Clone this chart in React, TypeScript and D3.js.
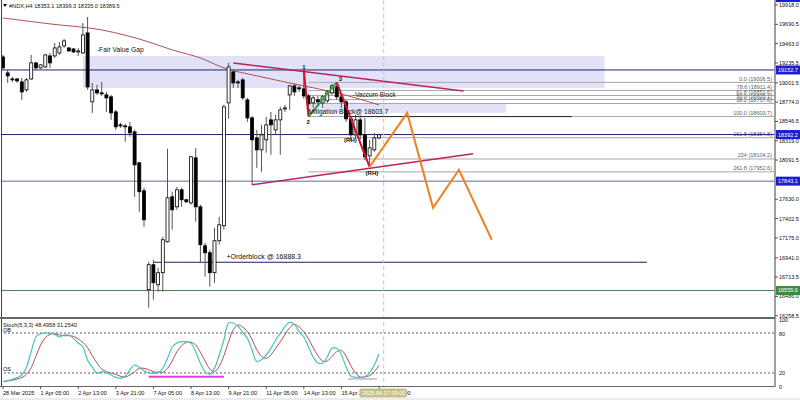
import React, { useEffect, useRef } from 'react';
import * as d3 from 'd3';

// NDX H4 candles, bar 0 = 28 Mar 2025
const opens = [19306,19118,19047,19047,19012,18918,19047,19236,19177,19189,19318,19318,19353,19436,19412,19400,19365,19353,19589,18777,18918,18883,18859,18836,18659,18506,18494,18483,18424,18059,17730,16565,16859,16623,16765,17129,17659,17541,17741,17624,17588,18118,17541,17082,17000,16765,17141,17318,18765,19130,19012,19036,18800,18588,18353,18212,18330,18565,18447,18565,18694,18859,18965,18942,18930,18847,18765,18800,18765,18789,18883,18953,18836,18777,18577,18388,18565,18388,18141,18212,18353.1];
const highs = [19330,19153,19071,19059,19059,19059,19330,19247,19224,19342,19353,19471,19483,19518,19424,19412,19412,19706,19777,19000,18977,19012,18894,18859,18683,18530,18518,18541,18447,18071,17765,16894,16918,16824,17188,18224,17718,17777,17765,17635,18141,18235,17565,17118,17035,17294,17424,18741,19236,19153,19036,19059,18824,18612,18447,18506,18600,18659,18624,18718,18741,18977,18989,18965,19153,18871,18847,18847,18859,18918,18989,19006.5,18859,18800,18600,18624,18624,18588,18330,18412,18399.3];
const lows = [19153,19000,19012,19000,18800,18894,19036,19153,19165,19177,19177,19295,19330,19412,19365,19353,19318,19342,18918,18647,18859,18847,18659,18565,18447,18471,18306,18365,17659,17482,17306,16353,16447,16541,16541,17118,17271,17506,17541,17588,17565,17365,16882,16718,16600,16647,17094,17271,18577,18942,18942,18800,18541,17800,18000,17953,18177,18153,18388,18153,18659,18683,18847,18894,18812,18603.7,18706,18718,18706,18765,18859,18800,18706,18541,18318,18353,18330,18094,18012,18188,18335.0];
const closes = [19177,19083,19036,19024,18894,19036,19236,19177,19212,19330,19236,19412,19424,19495,19377,19365,19377,19565,18953,18918,18883,18871,18824,18647,18483,18494,18483,18412,18035,17718,17388,16859,16647,16765,17153,17647,17506,17741,17624,17600,18130,17541,17094,17000,16765,17141,17329,18718,19189,19000,19000,18824,18588,18330,18212,18388,18506,18506,18565,18683,18706,18965,18894,18930,18847,18753,18824,18777,18836,18894,18965,18836,18777,18577,18388,18565,18388,18130,18235,18353,18389.5];

// moving average (read at a few bars)
const maBars = [0, 10, 21, 31, 36, 42, 47, 54, 64, 71, 80];
const maValues = [19765, 19695, 19624, 19483, 19389, 19294, 19177, 19083, 18965, 18883, 18741];

// Stoch(5,3,3)
const stochK = [7,8.5,10.5,13,17,29,52,74,79,80,80,78,74,77,77,72,65,59,39,29,19.5,22,20,17,13.5,12,15.5,24.5,32,28.5,23.5,20.5,19.5,20.5,27,42,59,65,67,67,64.5,52,34.5,22,18,27,47,69.5,95,95,90,81,72,54,37,40,47,57,69.5,79.5,90,96,93,82,74,59,44,35,34.5,44,57,57,47,29,15.5,13.5,13.5,14.5,20.5,32,48.5];
const stochD = [7,8,9,11,13,18,28,45,62,73,78,79,77,76,76,75,71,66,58,46,35,26,22,20,18,15,14,17,22,27,27,25,22,21,21,27,38,52,61,66,66,62,51,38,26,22,30,46,67,85,92,89,82,70,55,45,42,47,57,67,78,88,93,89,82,71,58,46,38,38,45,52,54,45,31,20,14,14,16,22,31.25];

const timeLabels = ['28 Mar 2025','1 Apr 05:00','2 Apr 13:00','3 Apr 21:00','7 Apr 05:00','8 Apr 13:00','9 Apr 21:00','11 Apr 05:00','14 Apr 13:00','15 Apr 21:00','17 Apr 05:00'];
const priceTicks = [19918.0,19690.5,19463.0,19235.5,19001.5,18774.0,18546.5,18319.0,18091.5,17630.0,17402.5,17175.0,16941.0,16713.5,16486.0,16258.5];

// levels
const levels = [
  { price: 20005.0, color: '#23236e', box: '#1e1ed2' },
  { price: 19152.7, color: '#23236e', box: '#1e1ed2' },
  { price: 18392.2, color: '#23236e', box: '#1e1ed2' },
  { price: 17843.1, color: '#6464a8', box: '#1e1ed2' },
  { price: 16555.6, color: '#4f7f4f', box: '#3d8a3d' },
];
const fibLevels = [19006.5, 18911.4, 18852.6, 18805.1, 18757.6, 18603.7, 18354.8, 18104.2, 17952.6];
const fibLabels = ['0.0 (19006.5)','78.6 (18911.4)','61.8 (18852.6)','50.0 (18805.1)','38.2 (18757.6)','100.0 (18603.7)','161.8 (18354.8)','224 (18104.2)','261.8 (17952.6)'];

// zigzag 1-2-3 and projection
const zigBars = [64, 65, 71, 78];
const zigPrices = [19153, 18603.7, 19006.5, 18012];
const projBars = [78, 86, 91.5, 97, 104];
const projPrices = [18012, 18647, 17529, 17977, 17153];

export default function App() {
  const svgRef = useRef<SVGSVGElement>(null);

  useEffect(() => {
    if (!svgRef.current) return;
    const svg = d3.select(svgRef.current);
    svg.selectAll('*').remove();

    const font = 'Liberation Sans, Arial, sans-serif';
    const right = 775;
    const mainBottom = 317;

    const x = d3.scaleLinear().domain([0, 80]).range([3, 379]);
    const y = d3.scaleLinear().domain([16258.5, 19690.5]).range([315.7, 24.3]);
    const ys = d3.scaleLinear().domain([0, 100]).range([386.3, 319.7]);

    svg.append('rect').attr('width', 800).attr('height', 400).attr('fill', '#fff');

    const defs = svg.append('defs');
    defs.append('clipPath').attr('id', 'mainClip')
      .append('rect').attr('x', 2).attr('y', 0).attr('width', right - 2).attr('height', mainBottom);
    defs.append('clipPath').attr('id', 'subClip')
      .append('rect').attr('x', 2).attr('y', 319).attr('width', right - 2).attr('height', 67);
    defs.append('clipPath').attr('id', 'axisClip')
      .append('rect').attr('x', 775).attr('y', 0).attr('width', 25).attr('height', 318);

    const g = svg.append('g').attr('clip-path', 'url(#mainClip)');

    // fair value gap + mitigation block
    g.append('rect')
      .attr('x', x(17)).attr('y', y(19318))
      .attr('width', x(128) - x(17)).attr('height', y(18941) - y(19318))
      .attr('fill', '#e1e2f8');
    g.append('rect')
      .attr('x', x(65)).attr('y', y(18765))
      .attr('width', x(107) - x(65)).attr('height', y(18647) - y(18765))
      .attr('fill', '#e1e2f8');

    // fibonacci
    fibLevels.forEach((p, i) => {
      g.append('line')
        .attr('x1', x(65)).attr('x2', right)
        .attr('y1', y(p)).attr('y2', y(p))
        .attr('stroke', '#a8a8a8').attr('stroke-width', 1);
      g.append('text')
        .attr('x', 772).attr('y', y(p) - 1.5)
        .attr('text-anchor', 'end')
        .attr('font-family', font).attr('font-size', 5.5)
        .attr('fill', '#606060')
        .text(fibLabels[i]);
    });
    g.append('line')
      .attr('x1', x(73)).attr('x2', x(121))
      .attr('y1', y(18603.7)).attr('y2', y(18603.7))
      .attr('stroke', '#3a2020').attr('stroke-width', 1);

    // horizontal levels
    levels.forEach(l => {
      g.append('line')
        .attr('x1', 0).attr('x2', right)
        .attr('y1', y(l.price)).attr('y2', y(l.price))
        .attr('stroke', l.color).attr('stroke-width', 1);
    });
    g.append('line')
      .attr('x1', x(32)).attr('x2', x(137))
      .attr('y1', y(16888.3)).attr('y2', y(16888.3))
      .attr('stroke', '#1c1c5e').attr('stroke-width', 1.2);

    // moving average
    const maLine = d3.line<number>()
      .x((_, i) => x(maBars[i]))
      .y(d => y(d))
      .curve(d3.curveMonotoneX);
    g.append('path').datum(maValues)
      .attr('fill', 'none').attr('stroke', '#b05050').attr('stroke-width', 1)
      .attr('d', maLine);

    // candles
    const bars = d3.range(opens.length);
    g.selectAll('.wick').data(bars).join('line')
      .attr('x1', i => x(i)).attr('x2', i => x(i))
      .attr('y1', i => y(highs[i])).attr('y2', i => y(lows[i]))
      .attr('stroke', '#555').attr('stroke-width', 1);
    g.selectAll('.body').data(bars).join('rect')
      .attr('x', i => x(i) - 1.5)
      .attr('y', i => y(Math.max(opens[i], closes[i])))
      .attr('width', 3)
      .attr('height', i => Math.max(0.8, Math.abs(y(opens[i]) - y(closes[i]))))
      .attr('fill', i => closes[i] >= opens[i] ? '#fff' : '#000')
      .attr('stroke', '#000').attr('stroke-width', 0.8);

    // trendlines
    const trend = [
      [[49, 19236], [98, 18906]],
      [[53, 17800], [100, 18165]],
    ];
    trend.forEach(t => {
      g.append('line')
        .attr('x1', x(t[0][0])).attr('y1', y(t[0][1]))
        .attr('x2', x(t[1][0])).attr('y2', y(t[1][1]))
        .attr('stroke', '#b8245e').attr('stroke-width', 1.5);
    });

    // zigzag
    const zigColors = ['#d0142a', '#2e9e3a', '#d0142a'];
    for (let i = 0; i < zigBars.length - 1; i++) {
      g.append('line')
        .attr('x1', x(zigBars[i])).attr('y1', y(zigPrices[i]))
        .attr('x2', x(zigBars[i + 1])).attr('y2', y(zigPrices[i + 1]))
        .attr('stroke', zigColors[i]).attr('stroke-width', 2);
    }

    // projection
    const proj = d3.line<number>().x((_, i) => x(projBars[i])).y(d => y(d));
    g.append('path').datum(projPrices)
      .attr('fill', 'none').attr('stroke', '#ec8224').attr('stroke-width', 2)
      .attr('stroke-linejoin', 'miter')
      .attr('d', proj);

    // labels on chart
    const label = (tx: number, ty: number, s: string, size = 6, weight = 'normal') =>
      g.append('text').attr('x', tx).attr('y', ty)
        .attr('font-family', font).attr('font-size', size).attr('font-weight', weight)
        .attr('fill', '#111').text(s);
    label(x(17) + 14, 52, '-Fair Value Gap', 6.7);
    label(x(32) + 73, y(16888.3) - 3, '+Orderblock @ 16888.3', 7);
    label(x(65), y(18603.7) - 3, 'Mitigation Block@ 18603.7', 6.7);
    label(x(74) + 2, y(18840), '-Vaccum Block', 6.5);
    label(x(64) - 1.5, y(19153) - 1, '1', 6, 'bold');
    label(x(65) - 2, y(18603.7) + 7, '2', 6, 'bold');
    label(x(71) + 2, y(19006.5) - 1, '3', 6, 'bold');
    label(x(73) - 2, y(18306), '(RH)', 6, 'bold');
    label(x(78) - 4, y(17912), '(RH)', 6, 'bold');

    // header
    svg.append('path').attr('d', 'M3,4 L7,4 L5,7 Z').attr('fill', '#000');
    svg.append('text').attr('x', 9).attr('y', 7.5)
      .attr('font-family', font).attr('font-size', 5.6).attr('fill', '#111')
      .text('#NDX,H4  18353.1 18399.3 18335.0 18389.5');

    // stochastic
    const s = svg.append('g').attr('clip-path', 'url(#subClip)');
    [80, 20].forEach(v => {
      s.append('line').attr('x1', 0).attr('x2', right)
        .attr('y1', ys(v)).attr('y2', ys(v))
        .attr('stroke', '#333').attr('stroke-dasharray', '2,2').attr('stroke-width', 0.8);
    });
    const sl = d3.line<number>().x((_, i) => x(i)).y(d => ys(d)).curve(d3.curveCatmullRom);
    s.append('path').datum(stochD)
      .attr('fill', 'none').attr('stroke', '#b05050').attr('stroke-width', 1).attr('d', sl);
    s.append('path').datum(stochK)
      .attr('fill', 'none').attr('stroke', '#45c3c3').attr('stroke-width', 1.2).attr('d', sl);
    s.append('line').attr('x1', x(31)).attr('x2', x(47))
      .attr('y1', ys(14.4)).attr('y2', ys(14.4))
      .attr('stroke', '#e040e0').attr('stroke-width', 2);
    s.append('line').attr('x1', x(73.4)).attr('x2', x(79.6))
      .attr('y1', ys(11)).attr('y2', ys(11))
      .attr('stroke', '#999').attr('stroke-width', 1);
    svg.append('text').attr('x', 3).attr('y', 327)
      .attr('font-family', font).attr('font-size', 5.6).attr('fill', '#111')
      .text('Stoch(5,3,3) 48.4958 31.2540');
    svg.append('text').attr('x', 3).attr('y', ys(80) - 1)
      .attr('font-family', font).attr('font-size', 5.6).attr('fill', '#111').text('OB');
    svg.append('text').attr('x', 3).attr('y', ys(20) - 1.5)
      .attr('font-family', font).attr('font-size', 5.6).attr('fill', '#111').text('OS');

    // vertical dashed line
    svg.append('line').attr('x1', x(81)).attr('x2', x(81)).attr('y1', 0).attr('y2', 386)
      .attr('stroke', '#cfc8aa').attr('stroke-dasharray', '4,3').attr('stroke-width', 1);

    // frames
    svg.append('line').attr('x1', 1.5).attr('x2', 1.5).attr('y1', 0).attr('y2', 387)
      .attr('stroke', '#444').attr('stroke-width', 1);
    svg.append('line').attr('x1', right).attr('x2', right).attr('y1', 0).attr('y2', 387)
      .attr('stroke', '#a0a0a0').attr('stroke-width', 2);
    svg.append('line').attr('x1', 0).attr('x2', right).attr('y1', 318).attr('y2', 318)
      .attr('stroke', '#666').attr('stroke-width', 2);
    svg.append('line').attr('x1', 0).attr('x2', right).attr('y1', 386.5).attr('y2', 386.5)
      .attr('stroke', '#666').attr('stroke-width', 1);

    // price axis
    priceTicks.forEach(p => {
      svg.append('line').attr('x1', right).attr('x2', right + 3).attr('y1', y(p)).attr('y2', y(p))
        .attr('stroke', '#555');
      svg.append('text').attr('x', 779).attr('y', y(p) + 2)
        .attr('font-family', font).attr('font-size', 5.5).attr('fill', '#111')
        .text(p.toFixed(1));
    });
    const ax = svg.append('g').attr('clip-path', 'url(#axisClip)');
    levels.forEach(l => {
      ax.append('rect').attr('x', 776).attr('y', y(l.price) - 4.5)
        .attr('width', 24).attr('height', 9).attr('fill', l.box);
      ax.append('text').attr('x', 778).attr('y', y(l.price) + 2)
        .attr('font-family', font).attr('font-size', 5.5).attr('fill', '#fff')
        .text(l.price.toFixed(1));
    });
    [100, 80, 20, 0].forEach(v => {
      svg.append('text').attr('x', 779).attr('y', ys(v) + 2.5)
        .attr('font-family', font).attr('font-size', 5.5).attr('fill', '#111')
        .text(String(v));
    });

    // time axis
    timeLabels.forEach((t, i) => {
      const bx = x(i * 8);
      svg.append('line').attr('x1', bx).attr('x2', bx).attr('y1', 386).attr('y2', 389).attr('stroke', '#555');
      svg.append('text').attr('x', bx).attr('y', 395)
        .attr('font-family', font).attr('font-size', 5.6).attr('fill', '#111').text(t);
    });
    svg.append('rect').attr('x', x(81) - 24).attr('y', 388.5).attr('width', 47).attr('height', 9)
      .attr('fill', '#c6c08a');
    svg.append('text').attr('x', x(81)).attr('y', 395).attr('text-anchor', 'middle')
      .attr('font-family', font).attr('font-size', 5.6).attr('fill', '#fff')
      .text('2025.04.17 09:00');
    svg.append('rect').attr('x', 0).attr('y', 398).attr('width', 800).attr('height', 2).attr('fill', '#ececec');
  }, []);

  return <svg ref={svgRef} width={800} height={400} style={{ position: 'absolute', left: 0, top: 0 }} />;
}
